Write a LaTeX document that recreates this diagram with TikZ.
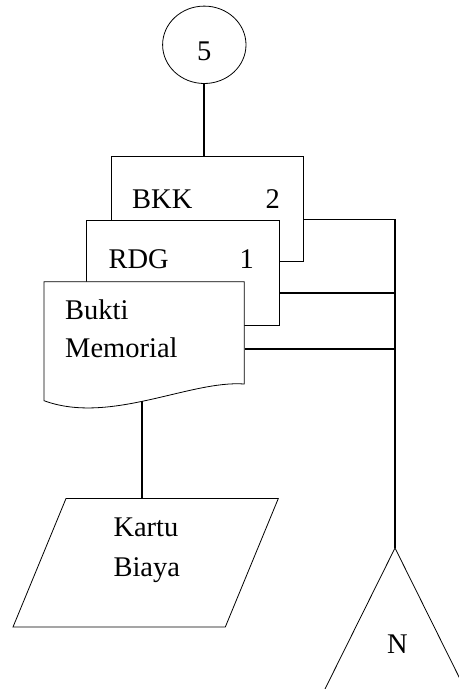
\documentclass[tikz,border=0pt]{standalone}
\usepackage{fontspec}
\setmainfont{Liberation Serif}
\usetikzlibrary{shapes.geometric, calc}

\tikzset{
  shapeline/.style={draw, line width=0.8bp},
  docbox/.style={shapeline, fill=white, rectangle, inner sep=0pt},
  flowline/.style={line width=1.8bp},
  lbl/.style={inner sep=0pt, font=\fontsize{28.5bp}{37.4bp}\selectfont},
}

\begin{document}
\begin{tikzpicture}[x=1bp, y=-1bp]
  \useasboundingbox (0,0) rectangle (459,689);
  \clip (0,0) rectangle (459,689);
  % off-page connector
  \node[shapeline, ellipse, inner sep=0pt, minimum width=83.4bp, minimum height=77.4bp] (conn5) at (204.3,44.8) {};
  \node[lbl, anchor=base] (num5) at (204.3,61) {5};
  % documents, back to front
  \node[docbox, minimum width=192bp, minimum height=105bp] (bkk) at (207,209.2) {};
  \node[lbl, anchor=base west] (bkkname) at (132,208.3) {BKK};
  \node[lbl, anchor=base east] (bkknum) at (280,208.3) {2};
  \node[docbox, minimum width=192.6bp, minimum height=105bp] (rdg) at (183,272.5) {};
  \node[lbl, anchor=base west] (rdgname) at (108.3,268.3) {RDG};
  \node[lbl, anchor=base east] (rdgnum) at (254,268.3) {1};
  \filldraw[shapeline, fill=white] (44,281.7) -- (244.3,281.7) -- (244.3,384)
    .. controls (190,380) and (110,425) .. (44,400.7) -- cycle;
  \node[inner sep=0pt, minimum width=200.3bp, minimum height=119bp, anchor=north west] (memo) at (44,281.7) {};
  \node[lbl, anchor=north west, align=left] (memotxt) at (65,299.8) {Bukti\\Memorial};
  \coordinate (memobot) at (142.3,401);
  % ledger card
  \draw[shapeline] (66,498.5) -- (278.3,498.5) -- (225.3,627) -- (13,627) -- cycle;
  \coordinate (kartutop) at (142.3,498.5);
  \node[lbl, anchor=north west, align=left, font=\fontsize{28.5bp}{40bp}\selectfont] (kartutxt) at (113.3,517.8) {Kartu\\Biaya};
  % archive
  \coordinate (apex) at (395,548);
  \draw[shapeline] (325,689) -- (apex) -- (465,689);
  \node[lbl, anchor=base] (arsip) at (397.5,653.3) {N};
  % flow lines
  \coordinate (bustop) at (395,219.5);
  \coordinate (b1) at (395,293.3);
  \coordinate (b2) at (395,349);
  \draw[flowline] (conn5.south) -- (conn5.south |- bkk.north);
  \draw[flowline] (bkk.east |- bustop) -- (bustop) -- (apex);
  \foreach \src/\lvl in {rdg/b1, memo/b2}
    \draw[flowline] (\lvl -| \src.east) -- (\lvl);
  \draw[flowline] (memobot) -- (kartutop);
\end{tikzpicture}
\end{document}
